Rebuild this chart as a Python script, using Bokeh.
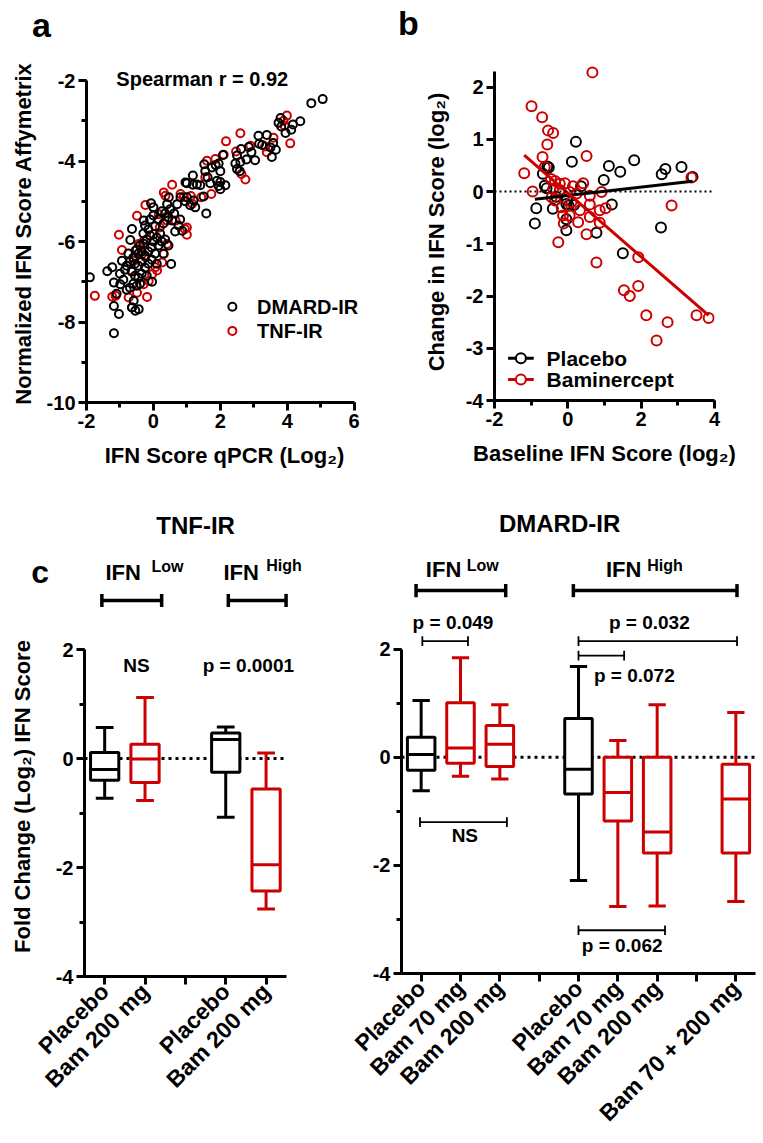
import math
from bokeh.plotting import figure
from bokeh.layouts import column, row
from bokeh.models import Label, SingleIntervalTicker, FixedTicker, Range1d, Span
from bokeh.embed import file_html
from bokeh.resources import INLINE

FONT = "Liberation Sans"
RED = "#CC0000"
BLACK = "#000000"

# ---------------- Panel a data ----------------
dmard_points = [
    (5.06, -2.46), (4.72, -2.56), (4.39, -3.01), (4.17, -3.09), (4.12, -3.22), (3.80, -2.93), (3.74, -3.05),
    (3.82, -3.14), (3.95, -3.30), (3.58, -3.55), (3.50, -3.66), (3.54, -3.90), (3.66, -3.72), (3.39, -3.35),
    (3.14, -3.37), (3.16, -3.57), (3.25, -3.60), (3.04, -3.98), (2.93, -3.78), (2.78, -3.96), (2.85, -3.65),
    (2.62, -3.70), (2.50, -3.86), (2.45, -4.06), (2.50, -4.20), (2.58, -4.25), (2.60, -4.02),
    (2.08, -3.85), (1.95, -4.06), (2.00, -4.25), (1.86, -4.10), (1.75, -4.16), (1.52, -4.08), (1.55, -4.25),
    (1.62, -4.40), (1.90, -4.49), (2.00, -4.52), (2.15, -4.60), (1.95, -4.62), (2.00, -4.70), (1.70, -4.55),
    (1.40, -4.60), (1.30, -4.58), (1.58, -5.30), (1.50, -4.88),
    (1.18, -4.36), (1.18, -4.59), (1.00, -4.55), (0.96, -4.53), (1.00, -4.90), (0.81, -4.90), (0.95, -5.00),
    (1.20, -4.98), (1.10, -5.10), (1.25, -5.15), (0.71, -5.07), (0.41, -5.07), (0.46, -4.90), (0.50, -5.20),
    (0.62, -5.30), (0.56, -5.48), (0.80, -5.45), (0.86, -5.73), (0.75, -5.60), (0.65, -5.75), (0.45, -5.40),
    (0.35, -5.30), (0.30, -5.55),
    (-0.07, -5.05), (0.00, -5.15), (-0.29, -5.48), (-0.25, -5.60), (-0.15, -5.70), (0.05, -5.62), (0.15, -5.45),
    (0.20, -5.80), (0.10, -5.90), (0.00, -6.00), (-0.10, -5.85), (-0.20, -5.95), (-0.30, -6.05), (-0.40, -6.10),
    (-0.50, -6.20), (-0.45, -6.30), (-0.35, -6.25), (-0.25, -6.35), (-0.15, -6.25), (-0.05, -6.15), (0.05, -6.30),
    (0.15, -6.10), (0.25, -6.00), (0.35, -5.95), (0.45, -6.10), (0.30, -6.30), (-0.60, -6.40), (-0.55, -6.55),
    (-0.45, -6.60), (-0.35, -6.50), (-0.25, -6.65), (-0.15, -6.55), (-0.05, -6.45), (0.10, -6.55), (0.53, -6.56),
    (-0.70, -6.50), (-0.80, -6.60), (-0.65, -6.75), (-0.55, -6.85), (-0.45, -6.90), (-0.35, -6.80), (-0.20, -6.85),
    (-0.04, -7.00), (-0.60, -7.05), (-0.50, -7.10), (-0.40, -7.05), (-0.94, -6.48), (-0.69, -5.96), (-0.64, -5.69),
    (-0.59, -7.47), (-0.54, -7.72), (-0.64, -7.64), (-0.44, -7.68), (-1.38, -6.74), (-1.23, -6.64), (-1.18, -7.02),
    (-0.99, -7.06), (-1.03, -7.80), (-1.18, -7.60), (-1.18, -8.28), (-1.90, -6.89), (-1.10, -7.30), (-0.90, -6.95),
    (-0.80, -7.20), (-0.70, -7.15), (-0.75, -6.30), (-0.85, -6.70), (-1.00, -6.80), (-0.30, -5.80), (0.25, -5.25),
    (0.00, -5.35), (-0.10, -5.45),
]
tnf_points = [
    (-1.75, -7.35), (-1.13, -7.35), (-1.23, -7.37), (-1.03, -5.83), (-0.94, -6.21), (-0.64, -7.64), (-0.74, -7.39),
    (-0.49, -7.27), (-0.29, -7.06), (-0.04, -6.81), (0.26, -6.52), (0.06, -6.64), (-0.64, -6.72), (-0.24, -6.39),
    (-0.54, -6.23), (-0.44, -6.06), (-0.29, -5.98), (0.41, -6.06), (0.01, -5.81), (0.19, -5.65), (0.41, -5.48),
    (0.66, -5.48), (0.16, -5.32), (-0.49, -5.36), (-0.24, -5.09), (0.36, -4.86), (0.31, -4.78), (0.56, -4.59),
    (0.94, -5.69), (1.00, -5.83), (1.16, -5.06), (0.81, -4.82), (0.91, -4.89), (1.12, -4.87), (1.43, -4.90),
    (1.73, -4.82), (1.55, -4.40), (1.60, -3.99), (1.85, -3.95), (2.10, -3.84), (2.17, -3.51), (2.60, -3.31),
    (2.47, -3.76), (2.63, -4.32), (2.75, -4.46), (2.90, -3.62), (3.39, -3.78), (3.34, -3.64), (3.59, -3.42),
    (3.92, -3.12), (3.89, -3.00), (3.99, -2.87), (4.09, -3.56), (-0.34, -6.31), (-0.59, -6.48), (0.31, -6.31),
    (-0.14, -6.98), (-0.19, -7.38), (0.11, -6.72), (1.00, -5.65),
]
spearman_text = "Spearman r = 0.92"
legend_a = ["DMARD-IR", "TNF-IR"]

# ---------------- Panel b data ----------------
placebo_points = [
    (-0.90, -0.61), (-0.86, -0.32), (-0.68, 0.34), (-0.56, 0.48), (-0.52, 0.46), (-0.63, 0.11), (-0.58, 0.06),
    (-0.41, -0.33), (-0.32, -0.10), (-0.03, -0.16), (-0.04, -0.24), (0.02, -0.27), (0.17, -0.26), (-0.04, -0.53),
    (-0.04, -0.74), (0.11, 0.57), (0.22, 0.95), (0.36, 0.10), (0.78, -0.79), (0.98, 0.22), (1.12, 0.49),
    (1.20, -0.25), (1.43, 0.38), (1.50, -1.18), (1.81, 0.60), (2.56, 0.33), (2.66, 0.43), (2.54, -0.69),
    (3.10, 0.47), (3.40, 0.28),
]
bam_points = [
    (0.67, 2.28), (-0.99, 1.63), (-0.70, 1.42), (-0.54, 1.17), (-0.40, 1.12), (-0.56, 0.90), (-0.69, 0.66),
    (0.51, 0.68), (-0.63, 0.47), (-1.19, 0.35), (-0.96, 0.00), (-0.46, 0.24), (-0.35, 0.20), (-0.22, 0.15),
    (-0.08, 0.16), (0.14, 0.10), (0.42, 0.16), (-0.40, 0.05), (-0.22, 0.03), (0.05, -0.01), (0.24, -0.04),
    (-0.44, -0.11), (-0.35, -0.17), (0.60, -0.08), (-0.17, -0.30), (0.60, -0.25), (0.92, -0.01), (0.10, -0.20),
    (-0.13, -0.46), (0.05, -0.46), (0.33, -0.36), (0.28, -0.59), (0.87, -0.36), (1.03, -0.32), (0.51, -0.82),
    (0.87, -0.60), (-0.26, -0.97), (-0.11, -0.61), (0.78, -1.36), (2.83, -0.27), (3.37, 0.27), (1.92, -1.26),
    (1.53, -1.89), (1.69, -2.00), (1.92, -1.81), (2.14, -2.37), (2.72, -2.50), (2.42, -2.85), (3.51, -2.37),
    (3.84, -2.42), (0.60, -0.49),
]
placebo_fit = (0.081, -0.077)   # slope, intercept
bam_fit = (-0.61, -0.03)
legend_b = ["Placebo", "Baminercept"]

# ---------------- Panel c data ----------------
tnf_labels = ["Placebo", "Bam 200 mg", "", "Placebo", "Bam 200 mg"]
tnf_pos = [1, 2, 4, 5]
tnf_min = [-0.73, -0.77, -1.08, -2.76]
tnf_q1 = [-0.40, -0.44, -0.25, -2.43]
tnf_med = [-0.20, -0.01, 0.35, -1.95]
tnf_q3 = [0.11, 0.26, 0.47, -0.56]
tnf_max = [0.57, 1.12, 0.58, 0.10]
tnf_colors = [BLACK, RED, BLACK, RED]

dmard_labels = ["Placebo", "Bam 70 mg", "Bam 200 mg", "", "Placebo", "Bam 70 mg", "Bam 200 mg", "", "Bam 70 + 200 mg"]
dmard_pos = [1, 2, 3, 5, 6, 7, 9]
dmard_min = [-0.62, -0.35, -0.40, -2.28, -2.76, -2.75, -2.67]
dmard_q1 = [-0.24, -0.11, -0.17, -0.68, -1.18, -1.77, -1.77]
dmard_med = [0.05, 0.17, 0.24, -0.22, -0.65, -1.38, -0.77]
dmard_q3 = [0.37, 1.01, 0.59, 0.72, 0.00, 0.00, -0.13]
dmard_max = [1.05, 1.84, 0.97, 1.68, 0.31, 0.97, 0.83]
dmard_colors = [BLACK, RED, RED, BLACK, RED, RED, RED]


def lab(p, x, y, text, size, align="center", baseline="middle", angle=0.0, style="bold", color="black"):
    p.add_layout(Label(x=x, y=y, text=text, text_font=FONT, text_font_size=f"{size}px",
                       text_font_style=style, text_align=align, text_baseline=baseline,
                       angle=angle, text_color=color))


def style_axis(ax, tick_size=20):
    ax.axis_line_width = 3
    ax.axis_line_color = "black"
    ax.major_tick_line_width = 3
    ax.minor_tick_line_width = 3
    ax.major_tick_out = 8
    ax.major_tick_in = 0
    ax.minor_tick_out = 5
    ax.minor_tick_in = 0
    ax.major_label_text_font = FONT
    ax.major_label_text_font_style = "bold"
    ax.major_label_text_font_size = f"{tick_size}px"
    ax.major_label_text_color = "black"
    ax.axis_label_text_font = FONT
    ax.axis_label_text_font_style = "bold"
    ax.axis_label_text_font_size = "22px"
    ax.axis_label_text_color = "black"
    ax.major_label_standoff = 3


def hyphen_labels(ax, lo, hi):
    # plain hyphen-minus labels, as in the original figure
    ax.major_label_overrides = {v: str(v) for v in range(lo, hi + 1)}


def base_fig(w, h, xr, yr, bl, br, bt, bb, axes=True):
    kw = {}
    if not axes:
        kw = dict(x_axis_type=None, y_axis_type=None)
    p = figure(width=w, height=h, x_range=Range1d(*xr), y_range=Range1d(*yr),
               output_backend="svg", toolbar_location=None, frame_align=False,
               min_border_left=bl, min_border_right=br, min_border_top=bt, min_border_bottom=bb, **kw)
    p.xgrid.visible = False
    p.ygrid.visible = False
    p.outline_line_color = None
    p.background_fill_color = "white"
    p.border_fill_color = "white"
    return p


# ================= strip with panel letters a / b (pixel coordinates) =================
strip_ab = base_fig(760, 50, (0, 760), (50, 0), 0, 0, 0, 0, axes=False)
lab(strip_ab, 41, 24, "a", 34)
lab(strip_ab, 408, 22, "b", 34)

# ================= Panel a =================
pa = base_fig(400, 440, (-2, 6.25), (-10, -1.6), 86, 38, 14, 88)
pa.xaxis.ticker = SingleIntervalTicker(interval=2, num_minor_ticks=2)
pa.yaxis.ticker = SingleIntervalTicker(interval=2, num_minor_ticks=2)
pa.xaxis.bounds = (-2, 6)
pa.yaxis.bounds = (-10, -2)
style_axis(pa.xaxis[0])
style_axis(pa.yaxis[0])
hyphen_labels(pa.xaxis[0], -2, 6)
hyphen_labels(pa.yaxis[0], -10, -2)
pa.xaxis.axis_label = "IFN Score qPCR (Log\u2082)"
pa.yaxis.axis_label = "Normalized IFN Score Affymetrix"
pa.xaxis.axis_label_standoff = 12
pa.yaxis.axis_label_standoff = 8

pa.scatter([q[0] for q in tnf_points], [q[1] for q in tnf_points], marker="circle", size=8,
           fill_color=None, line_color=RED, line_width=2)
pa.scatter([q[0] for q in dmard_points], [q[1] for q in dmard_points], marker="circle", size=8,
           fill_color=None, line_color=BLACK, line_width=2)
# legend
pa.scatter([2.36], [-7.62], marker="circle", size=8, fill_color=None, line_color=BLACK, line_width=2)
pa.scatter([2.36], [-8.22], marker="circle", size=8, fill_color=None, line_color=RED, line_width=2)
lab(pa, 3.10, -7.62, legend_a[0], 20, align="left")
lab(pa, 3.10, -8.22, legend_a[1], 20, align="left")
lab(pa, 1.46, -1.95, spearman_text, 20)

# ================= Panel b =================
pb = base_fig(360, 440, (-2, 4), (-4, 2.45), 94, 46, 13, 90)
pb.xaxis.ticker = SingleIntervalTicker(interval=2, num_minor_ticks=2)
pb.yaxis.ticker = SingleIntervalTicker(interval=1, num_minor_ticks=0)
pb.yaxis.bounds = (-4, 2.3)
style_axis(pb.xaxis[0])
style_axis(pb.yaxis[0])
hyphen_labels(pb.xaxis[0], -2, 4)
hyphen_labels(pb.yaxis[0], -4, 2)
pb.xaxis.axis_label = "Baseline IFN Score (log\u2082)"
pb.yaxis.axis_label = "Change in IFN Score (log\u2082)"
pb.xaxis.axis_label_standoff = 12
pb.yaxis.axis_label_standoff = 14

pb.add_layout(Span(location=0, dimension="width", line_color="black", line_width=1.8, line_dash="2 3"))
px = [q[0] for q in placebo_points]
py = [q[1] for q in placebo_points]
bx = [q[0] for q in bam_points]
by = [q[1] for q in bam_points]
pb.scatter(px, py, marker="circle", size=10, fill_color=None, line_color=BLACK, line_width=2)
pb.scatter(bx, by, marker="circle", size=10, fill_color=None, line_color=RED, line_width=2)
lx = [min(px), max(px)]
pb.line(lx, [placebo_fit[0] * v + placebo_fit[1] for v in lx], line_color=BLACK, line_width=3)
lxb = [min(bx), max(bx)]
pb.line(lxb, [bam_fit[0] * v + bam_fit[1] for v in lxb], line_color=RED, line_width=3)
# legend
pb.segment([-1.63], [-3.19], [-0.93], [-3.19], line_color=BLACK, line_width=3)
pb.segment([-1.63], [-3.60], [-0.93], [-3.60], line_color=RED, line_width=3)
pb.scatter([-1.28], [-3.19], marker="circle", size=10, fill_color="white", line_color=BLACK, line_width=2)
pb.scatter([-1.28], [-3.60], marker="circle", size=10, fill_color="white", line_color=RED, line_width=2)
lab(pb, -0.58, -3.19, legend_b[0], 21, align="left")
lab(pb, -0.58, -3.60, legend_b[1], 21, align="left")


# ================= Panel c =================
def box_panel(p, pos, mn, q1, med, q3, mx, colors, xmax):
    p.segment([0.5], [0], [xmax], [0], line_color="black", line_width=3, line_dash="3 4")
    cap = 0.22
    half = 0.35
    p.segment(pos, q3, pos, mx, line_color=colors, line_width=3)
    p.segment(pos, q1, pos, mn, line_color=colors, line_width=3)
    p.segment([v - cap for v in pos], mx, [v + cap for v in pos], mx, line_color=colors, line_width=3)
    p.segment([v - cap for v in pos], mn, [v + cap for v in pos], mn, line_color=colors, line_width=3)
    p.vbar(x=pos, width=2 * half, top=q3, bottom=q1, fill_color="white", line_color=colors, line_width=3)
    p.segment([v - half for v in pos], med, [v + half for v in pos], med, line_color=colors, line_width=3)


def bracket(p, x0, x1, y, tick, lw):
    p.segment([x0, x0, x1], [y, y - tick, y - tick], [x1, x0, x1], [y, y + tick, y + tick],
              line_color="black", line_width=lw)


def style_c(p, labels, xmax):
    p.yaxis.ticker = SingleIntervalTicker(interval=2, num_minor_ticks=2)
    p.yaxis.bounds = (-4, 2)
    p.xaxis.bounds = (0.5, xmax)
    p.xaxis.ticker = FixedTicker(ticks=list(range(1, len(labels) + 1)), minor_ticks=[])
    p.xaxis.major_label_overrides = {i + 1: t for i, t in enumerate(labels)}
    p.xaxis.major_label_orientation = math.pi / 4
    style_axis(p.xaxis[0], 23)
    style_axis(p.yaxis[0])
    hyphen_labels(p.yaxis[0], -4, 2)


C_YTOP = 2.716       # top of the main box-plot frames
STRIP_Y = (2.752, 4.917)

# TNF-IR: header strip + main plot
c1s = base_fig(320, 118, (-1.579, 6.342), STRIP_Y, 0, 0, 0, 0, axes=False)
bracket(c1s, 0.93, 2.41, 2.90, 0.12, 3.5)
bracket(c1s, 4.06, 5.49, 2.90, 0.12, 3.5)
lab(c1s, 1.02, 3.41, "IFN", 22, align="left")
lab(c1s, 2.16, 3.53, "Low", 16, align="left")
lab(c1s, 3.94, 3.41, "IFN", 22, align="left")
lab(c1s, 5.00, 3.54, "High", 16, align="left")
lab(c1s, 3.25, 4.28, "TNF-IR", 24)
lab(c1s, -0.60, 3.42, "c", 32, baseline="alphabetic")

pc1 = base_fig(320, 530, (0.5, 6.2), (-4, C_YTOP), 84, 6, 2, 162)
style_c(pc1, tnf_labels, 5.5)
pc1.yaxis.axis_label = "Fold Change (Log\u2082)  IFN Score"
pc1.yaxis.axis_label_standoff = 18
box_panel(pc1, tnf_pos, tnf_min, tnf_q1, tnf_med, tnf_q3, tnf_max, tnf_colors, 5.5)
lab(pc1, 1.79, 1.71, "NS", 19)
lab(pc1, 4.56, 1.71, "p = 0.0001", 19)

# DMARD-IR: header strip + main plot
c2s = base_fig(440, 118, (-1.559, 9.628), STRIP_Y, 0, 0, 0, 0, axes=False)
bracket(c2s, 0.87, 3.15, 3.08, 0.12, 3.5)
bracket(c2s, 4.87, 9.03, 3.08, 0.12, 3.5)
lab(c2s, 1.12, 3.46, "IFN", 22, align="left")
lab(c2s, 2.16, 3.55, "Low", 16, align="left")
lab(c2s, 5.70, 3.46, "IFN", 22, align="left")
lab(c2s, 6.75, 3.55, "High", 16, align="left")
lab(c2s, 4.52, 4.31, "DMARD-IR", 24)

pc2 = base_fig(440, 530, (0.5, 9.5), (-4, C_YTOP), 81, 5, 2, 162)
style_c(pc2, dmard_labels, 9.5)
box_panel(pc2, dmard_pos, dmard_min, dmard_q1, dmard_med, dmard_q3, dmard_max, dmard_colors, 9.5)
bracket(pc2, 1.03, 2.19, 2.15, 0.09, 1.8)
lab(pc2, 1.81, 2.50, "p = 0.049", 19)
bracket(pc2, 5.0, 9.03, 2.15, 0.09, 1.8)
lab(pc2, 6.80, 2.50, "p = 0.032", 19)
bracket(pc2, 5.0, 6.16, 1.88, 0.09, 1.8)
lab(pc2, 6.42, 1.51, "p = 0.072", 19)
bracket(pc2, 0.97, 3.18, -1.20, 0.09, 1.8)
lab(pc2, 2.11, -1.45, "NS", 19)
bracket(pc2, 5.0, 7.2, -3.20, 0.09, 1.8)
lab(pc2, 6.11, -3.48, "p = 0.062", 19)

layout = column(strip_ab, row(pa, pb), row(column(c1s, pc1), column(c2s, pc2)))
open("out.html", "w").write(file_html(layout, INLINE))
